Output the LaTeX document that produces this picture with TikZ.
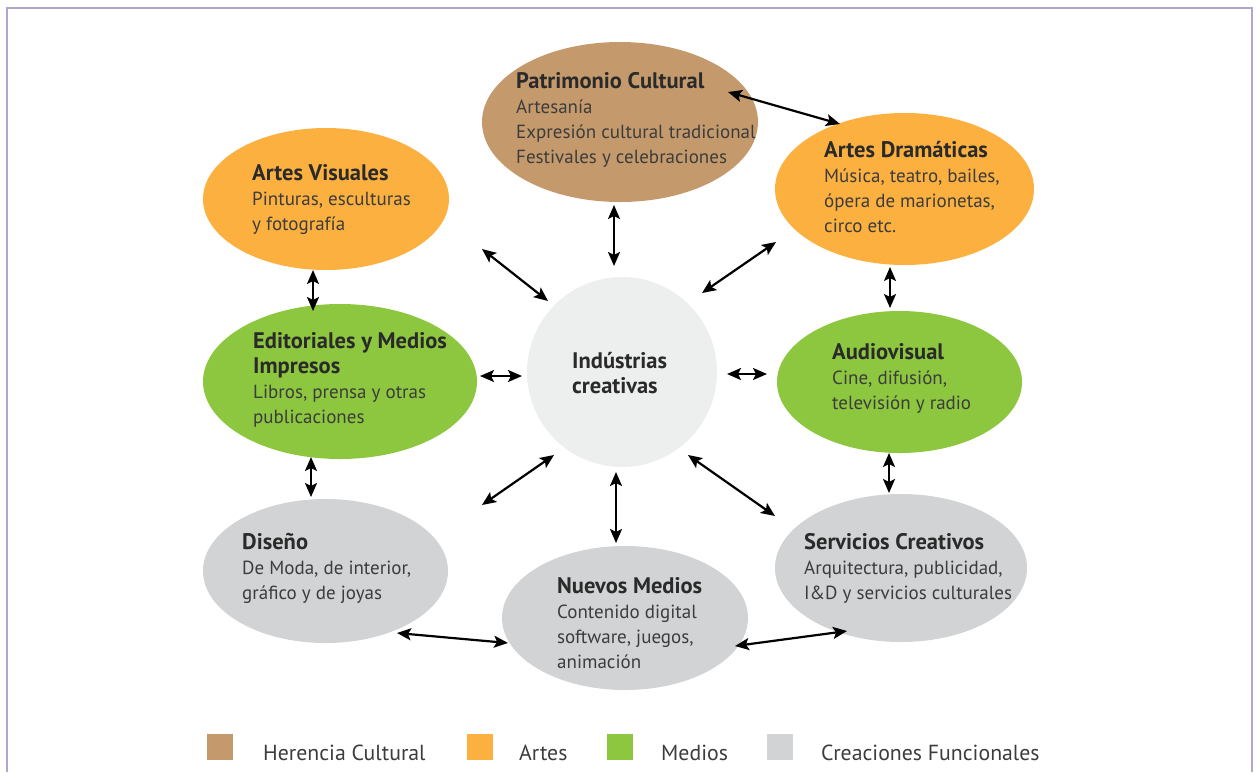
\documentclass[tikz,border=0pt]{standalone}
\usepackage{fontspec}
\setmainfont{PT Sans}
\usetikzlibrary{arrows.meta,shapes.geometric}
\definecolor{tan}{HTML}{C49A6C}
\definecolor{orng}{HTML}{FBB040}
\definecolor{grn}{HTML}{8DC63F}
\definecolor{gry}{HTML}{D1D3D4}
\definecolor{ctr}{HTML}{EDEEEE}
\definecolor{frm}{HTML}{B4A5D0}
\definecolor{ttl}{HTML}{2A2A2A}
\definecolor{bdy}{HTML}{3C3C3C}
\tikzset{
  blob/.style={ellipse, draw=none, inner sep=0pt},
  txt/.style={anchor=north west, inner sep=0pt, align=left, text=bdy,
     font=\fontsize{19}{25}\selectfont},
  arr/.style={{Stealth[length=14pt,width=12pt,inset=3pt]}-{Stealth[length=14pt,width=12pt,inset=3pt]}, line width=2.2pt, black},
  leg/.style={minimum size=26pt, inner sep=0pt, draw=none},
  legt/.style={anchor=base west, inner sep=0pt, text=bdy, font=\fontsize{21.8}{24}\selectfont}
}
\newcommand{\ttlx}[1]{{\bfseries\color{ttl}\fontsize{22.5}{25}\selectfont #1}}
\begin{document}
\begin{tikzpicture}[x=1pt,y=-1pt]
\useasboundingbox (0,0) rectangle (1260,772);
\draw[frm, line width=2pt] (7,772) -- (7,8) -- (1252,8) -- (1252,772);

% ellipses
\node[blob, fill=tan, minimum width=276pt, minimum height=160pt] (pat) at (620,122) {};
\node[blob, fill=orng, minimum width=246pt, minimum height=142pt] (vis) at (326,199) {};
\node[blob, fill=orng, minimum width=259pt, minimum height=152pt] (dra) at (904.5,189) {};
\node[blob, fill=grn, minimum width=274pt, minimum height=155pt] (edi) at (340,381.5) {};
\node[circle, fill=ctr, minimum size=190pt, inner sep=0pt] (ind) at (622,372) {};
\node[blob, fill=grn, minimum width=245pt, minimum height=142pt] (aud) at (899.5,382) {};
\node[blob, fill=gry, minimum width=245pt, minimum height=144pt] (dis) at (325.5,571) {};
\node[blob, fill=gry, minimum width=246pt, minimum height=144pt] (nue) at (625,618) {};
\node[blob, fill=gry, minimum width=252pt, minimum height=148pt] (ser) at (901,568) {};

% texts
\node[txt] (patT) at (516,72) {\ttlx{Patrimonio Cultural}\\Artesanía\\Expresión cultural tradicional\\Festivales y celebraciones};
\node[txt] (visT) at (252,164) {\ttlx{Artes Visuales}\\Pinturas, esculturas\\y fotografía};
\node[txt] (draT) at (824,141) {\ttlx{Artes Dramáticas}\\Música, teatro, bailes,\\ópera de marionetas,\\circo etc.};
\node[txt] (ediT) at (253,332) {\ttlx{Editoriales y Medios}\\\ttlx{Impresos}\\Libros, prensa y otras\\publicaciones};
\node[txt] (indT) at (572,352) {\ttlx{Indústrias}\\\ttlx{creativas}};
\node[txt] (audT) at (832,343) {\ttlx{Audiovisual}\\Cine, difusión,\\televisión y radio};
\node[txt] (disT) at (242,533) {\ttlx{Diseño}\\De Moda, de interior,\\gráfico y de joyas};
\node[txt] (serT) at (804,533) {\ttlx{Servicios Creativos}\\Arquitectura, publicidad,\\I\&D y servicios culturales};
\node[txt] (nueT) at (557,577) {\ttlx{Nuevos Medios}\\Contenido digital\\software, juegos,\\animación};

% arrow end points
\coordinate (a1) at (728,92);  \coordinate (b1) at (840,124);
\coordinate (a2) at (614,205); \coordinate (b2) at (614,266);
\coordinate (a3) at (482,249); \coordinate (b3) at (548,301);
\coordinate (a4) at (776,242); \coordinate (b4) at (702,293);
\coordinate (a5) at (313,270); \coordinate (b5) at (313,311);
\coordinate (a6) at (480,376); \coordinate (b6) at (522,376);
\coordinate (a7) at (727,374); \coordinate (b7) at (767,374);
\coordinate (a8) at (890,267); \coordinate (b8) at (890,308);
\coordinate (a9) at (311,457); \coordinate (b9) at (311,497);
\coordinate (a10) at (889,453); \coordinate (b10) at (889,493);
\coordinate (a11) at (554,455); \coordinate (b11) at (482,505);
\coordinate (a12) at (616,472); \coordinate (b12) at (616,543);
\coordinate (a13) at (688,455); \coordinate (b13) at (775,516);
\coordinate (a14) at (397,633); \coordinate (b14) at (508,643);
\coordinate (a15) at (735,646); \coordinate (b15) at (847,631);
\foreach \i in {1,...,15} {\draw[arr] (a\i) -- (b\i);}

% legend
\node[leg, fill=tan] (l1) at (220,746.5) {};
\node[legt] (l1t) at (263,760) {Herencia Cultural};
\node[leg, fill=orng] (l2) at (480,746.5) {};
\node[legt] (l2t) at (519,760) {Artes};
\node[leg, fill=grn] (l3) at (620,746.5) {};
\node[legt] (l3t) at (661,760) {Medios};
\node[leg, fill=gry] (l4) at (780,746.5) {};
\node[legt] (l4t) at (821,760) {Creaciones Funcionales};
\end{tikzpicture}
\end{document}
